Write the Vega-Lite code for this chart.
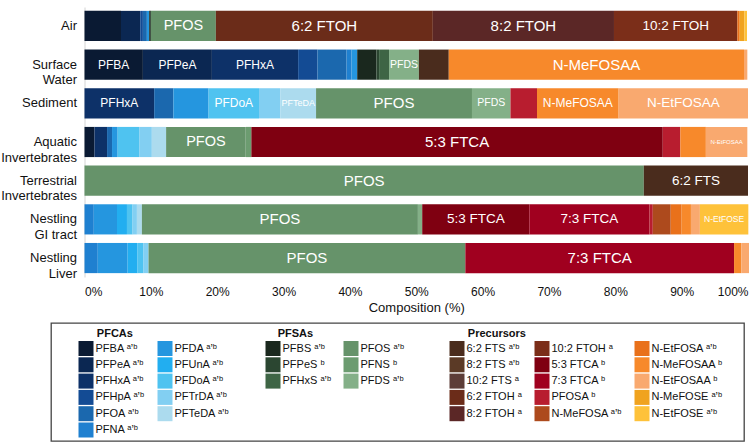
{
  "$schema": "https://vega.github.io/schema/vega-lite/v6.json",
  "padding": {"left": 0, "top": 7, "right": 2, "bottom": 2},
  "bounds": "flush",
  "spacing": 46,
  "config": {
    "font": "Liberation Sans",
    "axis": {"labelColor": "#111", "titleColor": "#111"},
    "legend": {
      "orient": "none",
      "symbolType": "square",
      "symbolSize": 225,
      "symbolStrokeWidth": 0,
      "labelFontSize": 11,
      "labelColor": "#111",
      "labelFont": "Liberation Sans, DejaVu Sans",
      "labelOffset": 2,
      "titleFontSize": 11,
      "titleFontWeight": "bold",
      "titleColor": "#111",
      "titlePadding": 2,
      "rowPadding": 1.3,
      "columnPadding": 12,
      "padding": 0,
      "gridAlign": "each"
    }
  },
  "vconcat": [
    {
      "width": 697,
      "height": 270,
      "view": {"stroke": null},
      "data": {
        "values": [
          {"medium": "Air", "group": "PFCAs", "compound": "PFBA", "share": 0.055, "labelled": false},
          {"medium": "Air", "group": "PFCAs", "compound": "PFPeA", "share": 0.029, "labelled": false},
          {"medium": "Air", "group": "PFCAs", "compound": "PFHpA", "share": 0.004, "labelled": false},
          {"medium": "Air", "group": "PFCAs", "compound": "PFOA", "share": 0.006, "labelled": false},
          {"medium": "Air", "group": "PFCAs", "compound": "PFDA", "share": 0.0035, "labelled": false},
          {"medium": "Air", "group": "PFSAs", "compound": "PFBS", "share": 0.0025, "labelled": false},
          {"medium": "Air", "group": "PFSAs", "compound": "PFOS", "share": 0.098, "labelled": true},
          {"medium": "Air", "group": "Precursors", "compound": "6:2 FTOH", "share": 0.327, "labelled": true},
          {"medium": "Air", "group": "Precursors", "compound": "8:2 FTOH", "share": 0.273, "labelled": true},
          {"medium": "Air", "group": "Precursors", "compound": "10:2 FTOH", "share": 0.186, "labelled": true},
          {"medium": "Air", "group": "Precursors", "compound": "N-EtFOSA", "share": 0.0035, "labelled": false},
          {"medium": "Air", "group": "Precursors", "compound": "N-MeFOSE", "share": 0.007, "labelled": false},
          {"medium": "Air", "group": "Precursors", "compound": "N-EtFOSE", "share": 0.004, "labelled": false},

          {"medium": "Surface Water", "group": "PFCAs", "compound": "PFBA", "share": 0.088, "labelled": true},
          {"medium": "Surface Water", "group": "PFCAs", "compound": "PFPeA", "share": 0.104, "labelled": true},
          {"medium": "Surface Water", "group": "PFCAs", "compound": "PFHxA", "share": 0.130, "labelled": true},
          {"medium": "Surface Water", "group": "PFCAs", "compound": "PFHpA", "share": 0.029, "labelled": false},
          {"medium": "Surface Water", "group": "PFCAs", "compound": "PFOA", "share": 0.044, "labelled": false},
          {"medium": "Surface Water", "group": "PFCAs", "compound": "PFNA", "share": 0.0075, "labelled": false},
          {"medium": "Surface Water", "group": "PFCAs", "compound": "PFDA", "share": 0.0085, "labelled": false},
          {"medium": "Surface Water", "group": "PFSAs", "compound": "PFBS", "share": 0.029, "labelled": false},
          {"medium": "Surface Water", "group": "PFSAs", "compound": "PFPeS", "share": 0.004, "labelled": false},
          {"medium": "Surface Water", "group": "PFSAs", "compound": "PFHxS", "share": 0.015, "labelled": false},
          {"medium": "Surface Water", "group": "PFSAs", "compound": "PFDS", "share": 0.045, "labelled": true},
          {"medium": "Surface Water", "group": "Precursors", "compound": "6:2 FTS", "share": 0.045, "labelled": false},
          {"medium": "Surface Water", "group": "Precursors", "compound": "N-MeFOSAA", "share": 0.445, "labelled": true},
          {"medium": "Surface Water", "group": "Precursors", "compound": "N-EtFOSAA", "share": 0.005, "labelled": false},

          {"medium": "Sediment", "group": "PFCAs", "compound": "PFHxA", "share": 0.105, "labelled": true},
          {"medium": "Sediment", "group": "PFCAs", "compound": "PFOA", "share": 0.029, "labelled": false},
          {"medium": "Sediment", "group": "PFCAs", "compound": "PFDA", "share": 0.053, "labelled": false},
          {"medium": "Sediment", "group": "PFCAs", "compound": "PFDoA", "share": 0.076, "labelled": true},
          {"medium": "Sediment", "group": "PFCAs", "compound": "PFTrDA", "share": 0.032, "labelled": false},
          {"medium": "Sediment", "group": "PFCAs", "compound": "PFTeDA", "share": 0.054, "labelled": true},
          {"medium": "Sediment", "group": "PFSAs", "compound": "PFOS", "share": 0.235, "labelled": true},
          {"medium": "Sediment", "group": "PFSAs", "compound": "PFDS", "share": 0.058, "labelled": true},
          {"medium": "Sediment", "group": "Precursors", "compound": "PFOSA", "share": 0.040, "labelled": false},
          {"medium": "Sediment", "group": "Precursors", "compound": "N-MeFOSAA", "share": 0.123, "labelled": true},
          {"medium": "Sediment", "group": "Precursors", "compound": "N-EtFOSAA", "share": 0.195, "labelled": true},

          {"medium": "Aquatic Invertebrates", "group": "PFCAs", "compound": "PFBA", "share": 0.015, "labelled": false},
          {"medium": "Aquatic Invertebrates", "group": "PFCAs", "compound": "PFHxA", "share": 0.019, "labelled": false},
          {"medium": "Aquatic Invertebrates", "group": "PFCAs", "compound": "PFOA", "share": 0.0075, "labelled": false},
          {"medium": "Aquatic Invertebrates", "group": "PFCAs", "compound": "PFDA", "share": 0.0085, "labelled": false},
          {"medium": "Aquatic Invertebrates", "group": "PFCAs", "compound": "PFDoA", "share": 0.033, "labelled": false},
          {"medium": "Aquatic Invertebrates", "group": "PFCAs", "compound": "PFTrDA", "share": 0.0185, "labelled": false},
          {"medium": "Aquatic Invertebrates", "group": "PFCAs", "compound": "PFTeDA", "share": 0.0215, "labelled": false},
          {"medium": "Aquatic Invertebrates", "group": "PFSAs", "compound": "PFOS", "share": 0.120, "labelled": true},
          {"medium": "Aquatic Invertebrates", "group": "PFSAs", "compound": "PFNS", "share": 0.0085, "labelled": false},
          {"medium": "Aquatic Invertebrates", "group": "Precursors", "compound": "5:3 FTCA", "share": 0.620, "labelled": true},
          {"medium": "Aquatic Invertebrates", "group": "Precursors", "compound": "PFOSA", "share": 0.0265, "labelled": false},
          {"medium": "Aquatic Invertebrates", "group": "Precursors", "compound": "N-MeFOSAA", "share": 0.0385, "labelled": false},
          {"medium": "Aquatic Invertebrates", "group": "Precursors", "compound": "N-EtFOSAA", "share": 0.0625, "labelled": true},

          {"medium": "Terrestrial Invertebrates", "group": "PFSAs", "compound": "PFOS", "share": 0.843, "labelled": true},
          {"medium": "Terrestrial Invertebrates", "group": "Precursors", "compound": "6:2 FTS", "share": 0.157, "labelled": true},

          {"medium": "Nestling GI tract", "group": "PFCAs", "compound": "PFNA", "share": 0.014, "labelled": false},
          {"medium": "Nestling GI tract", "group": "PFCAs", "compound": "PFDA", "share": 0.035, "labelled": false},
          {"medium": "Nestling GI tract", "group": "PFCAs", "compound": "PFUnA", "share": 0.015, "labelled": false},
          {"medium": "Nestling GI tract", "group": "PFCAs", "compound": "PFDoA", "share": 0.0085, "labelled": false},
          {"medium": "Nestling GI tract", "group": "PFCAs", "compound": "PFTrDA", "share": 0.0065, "labelled": false},
          {"medium": "Nestling GI tract", "group": "PFCAs", "compound": "PFTeDA", "share": 0.0075, "labelled": false},
          {"medium": "Nestling GI tract", "group": "PFSAs", "compound": "PFOS", "share": 0.416, "labelled": true},
          {"medium": "Nestling GI tract", "group": "PFSAs", "compound": "PFDS", "share": 0.0065, "labelled": false},
          {"medium": "Nestling GI tract", "group": "Precursors", "compound": "5:3 FTCA", "share": 0.1615, "labelled": true},
          {"medium": "Nestling GI tract", "group": "Precursors", "compound": "7:3 FTCA", "share": 0.181, "labelled": true},
          {"medium": "Nestling GI tract", "group": "Precursors", "compound": "PFOSA", "share": 0.005, "labelled": false},
          {"medium": "Nestling GI tract", "group": "Precursors", "compound": "N-MeFOSA", "share": 0.027, "labelled": false},
          {"medium": "Nestling GI tract", "group": "Precursors", "compound": "N-EtFOSA", "share": 0.0165, "labelled": false},
          {"medium": "Nestling GI tract", "group": "Precursors", "compound": "N-MeFOSAA", "share": 0.014, "labelled": false},
          {"medium": "Nestling GI tract", "group": "Precursors", "compound": "N-EtFOSAA", "share": 0.0135, "labelled": false},
          {"medium": "Nestling GI tract", "group": "Precursors", "compound": "N-EtFOSE", "share": 0.073, "labelled": true},

          {"medium": "Nestling Liver", "group": "PFCAs", "compound": "PFNA", "share": 0.020, "labelled": false},
          {"medium": "Nestling Liver", "group": "PFCAs", "compound": "PFDA", "share": 0.045, "labelled": false},
          {"medium": "Nestling Liver", "group": "PFCAs", "compound": "PFUnA", "share": 0.015, "labelled": false},
          {"medium": "Nestling Liver", "group": "PFCAs", "compound": "PFDoA", "share": 0.009, "labelled": false},
          {"medium": "Nestling Liver", "group": "PFCAs", "compound": "PFTrDA", "share": 0.0075, "labelled": false},
          {"medium": "Nestling Liver", "group": "PFSAs", "compound": "PFOS", "share": 0.4775, "labelled": true},
          {"medium": "Nestling Liver", "group": "Precursors", "compound": "7:3 FTCA", "share": 0.405, "labelled": true},
          {"medium": "Nestling Liver", "group": "Precursors", "compound": "N-MeFOSAA", "share": 0.011, "labelled": false},
          {"medium": "Nestling Liver", "group": "Precursors", "compound": "N-EtFOSAA", "share": 0.0115, "labelled": false}
        ]
      },
      "transform": [
        {"stack": "share", "groupby": ["medium"], "as": ["x0", "x1"]}
      ],
      "encoding": {
        "y": {
          "field": "medium",
          "type": "nominal",
          "sort": ["Air", "Surface Water", "Sediment", "Aquatic Invertebrates", "Terrestrial Invertebrates", "Nestling GI tract", "Nestling Liver"],
          "scale": {"paddingInner": 0.22, "paddingOuter": 0.1},
          "axis": {
            "title": null,
            "ticks": false,
            "domainColor": "#d4d4d4",
            "offset": -33.5,
            "labelPadding": 8,
            "labelFontSize": 13,
            "labelLineHeight": 15.5,
            "labelExpr": "datum.label == 'Nestling GI tract' ? ['Nestling', 'GI tract'] : split(datum.label, ' ')"
          }
        }
      },
      "layer": [
        {
          "transform": [{"filter": "datum.group == 'PFCAs'"}],
          "mark": {"type": "bar"},
          "encoding": {
            "x": {
              "field": "x0",
              "type": "quantitative",
              "scale": {"domain": [0, 1], "range": [33.5, 697]},
              "axis": {
                "values": [0, 0.1, 0.2, 0.3, 0.4, 0.5, 0.6, 0.7, 0.8, 0.9, 1],
                "format": ".0%",
                "labelFlush": true,
                "grid": false,
                "ticks": false,
                "domain": false,
                "labelFontSize": 12,
                "labelPadding": 9,
                "title": "Composition (%)",
                "titleFontSize": 13,
                "titleFontWeight": "normal",
                "titlePadding": 4
              }
            },
            "x2": {"field": "x1"},
            "color": {
              "field": "compound",
              "type": "nominal",
              "scale": {
                "domain": ["PFBA", "PFPeA", "PFHxA", "PFHpA", "PFOA", "PFNA", "PFDA", "PFUnA", "PFDoA", "PFTrDA", "PFTeDA"],
                "range": ["#0a1a33", "#0b2752", "#0d3168", "#134b94", "#1b68ae", "#1f80d0", "#2596df", "#22aef0", "#4fc3f0", "#82cff2", "#acdbee"]
              },
              "legend": {
                "title": "\u200b\u00a0\u00a0\u00a0\u00a0\u00a0\u00a0PFCAs", "columns": 2, "legendX": 27.5, "legendY": 321,
                "labelExpr": "datum.label + ' ᵃʼᵇ'"
              }
            }
          }
        },
        {
          "transform": [{"filter": "datum.group == 'PFSAs'"}],
          "mark": {"type": "bar"},
          "encoding": {
            "x": {"field": "x0", "type": "quantitative", "scale": {"domain": [0, 1], "range": [33.5, 697]}},
            "x2": {"field": "x1"},
            "color": {
              "field": "compound",
              "type": "nominal",
              "scale": {
                "domain": ["PFBS", "PFPeS", "PFHxS", "PFOS", "PFNS", "PFDS"],
                "range": ["#1a281e", "#2b4631", "#3e6545", "#66936a", "#6c9c70", "#84b088"]
              },
              "legend": {
                "title": "\u200b\u00a0\u00a0\u00a0\u00a0PFSAs", "columns": 2, "legendX": 214.5, "legendY": 321,
                "labelExpr": "datum.label + (datum.label == 'PFPeS' || datum.label == 'PFNS' ? ' ᵇ' : ' ᵃʼᵇ')"
              }
            }
          }
        },
        {
          "transform": [{"filter": "datum.group == 'Precursors'"}],
          "mark": {"type": "bar"},
          "encoding": {
            "x": {"field": "x0", "type": "quantitative", "scale": {"domain": [0, 1], "range": [33.5, 697]}},
            "x2": {"field": "x1"},
            "color": {
              "field": "compound",
              "type": "nominal",
              "scale": {
                "domain": ["6:2 FTS", "8:2 FTS", "10:2 FTS", "6:2 FTOH", "8:2 FTOH", "10:2 FTOH", "5:3 FTCA", "7:3 FTCA", "PFOSA", "N-MeFOSA", "N-EtFOSA", "N-MeFOSAA", "N-EtFOSAA", "N-MeFOSE", "N-EtFOSE"],
                "range": ["#4a2c1d", "#5b3a26", "#5d3d37", "#6b2c19", "#5b2726", "#7b2e19", "#7f0011", "#a0001f", "#b81d2f", "#ad4a1d", "#e9711b", "#f7892b", "#f9a96f", "#f0a31f", "#fec23a"]
              },
              "legend": {
                "title": "\u200b\u00a0\u00a0\u00a0\u00a0\u00a0\u00a0Precursors", "columns": 3, "legendX": 398.5, "legendY": 321,
                "labelExpr": "datum.label + ((datum.label == '5:3 FTCA' || datum.label == '7:3 FTCA' || datum.label == 'PFOSA' || datum.label == 'N-MeFOSAA' || datum.label == 'N-EtFOSAA') ? ' ᵇ' : (datum.label == '10:2 FTS' || datum.label == '6:2 FTOH' || datum.label == '8:2 FTOH' || datum.label == '10:2 FTOH') ? ' ᵃ' : ' ᵃʼᵇ')"
              }
            }
          }
        },
        {
          "transform": [
            {"filter": "datum.labelled"},
            {"fold": ["x0", "x1"], "as": ["edge", "pos"]},
            {"aggregate": [{"op": "mean", "field": "pos", "as": "mid"}], "groupby": ["medium", "compound", "share"]}
          ],
          "mark": {"type": "text", "color": "#ffffff", "align": "center", "baseline": "middle", "font": "Liberation Sans"},
          "encoding": {
            "x": {"field": "mid", "type": "quantitative", "scale": {"domain": [0, 1], "range": [33.5, 697]}},
            "text": {"field": "compound"},
            "size": {
              "condition": [
                {"test": "datum.share < 0.065 && length(datum.compound) > 6", "value": 6},
                {"test": "datum.share < 0.08 && length(datum.compound) > 6", "value": 8.5},
                {"test": "datum.share < 0.06 && length(datum.compound) > 5", "value": 9},
                {"test": "datum.share < 0.07", "value": 10.5},
                {"test": "datum.share < 0.14 && datum.share > 0.09 && length(datum.compound) < 5", "value": 14.5},
                {"test": "datum.share < 0.14", "value": 12},
                {"test": "datum.share < 0.2", "value": 13.5}
              ],
              "value": 15
            }
          }
        }
      ],
      "resolve": {"scale": {"color": "independent"}}
    },
    {
      "width": 693,
      "height": 118,
      "view": {"stroke": "#444", "strokeWidth": 1.3},
      "data": {"values": []},
      "mark": "point"
    }
  ]
}
